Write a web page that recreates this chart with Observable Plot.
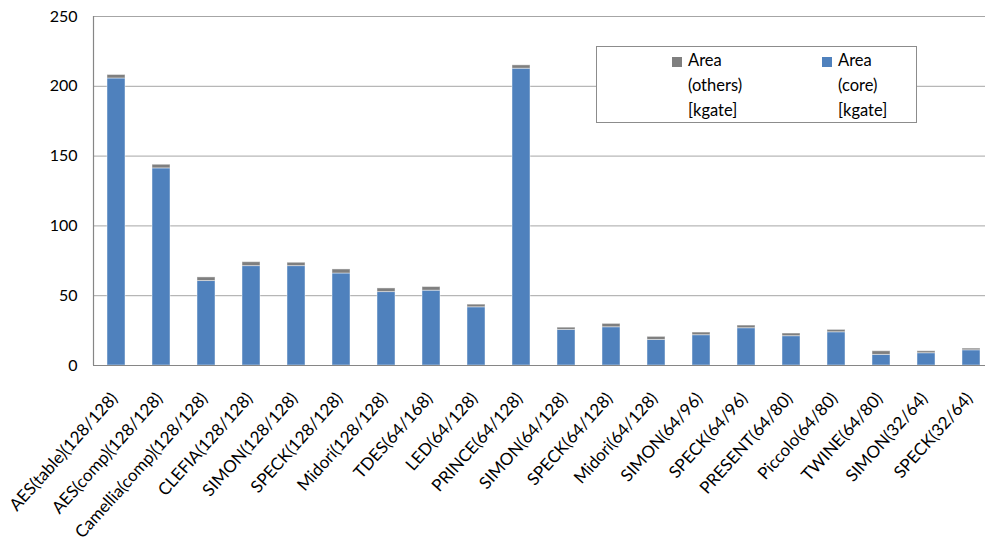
<!DOCTYPE html>
<html>
<head>
<meta charset="utf-8">
<script src="https://cdn.jsdelivr.net/npm/d3@7"></script>
<script src="https://cdn.jsdelivr.net/npm/@observablehq/plot@0.6"></script>
<style>
  html, body { margin: 0; padding: 0; background: #fff; }
  #wrap { position: relative; width: 985px; height: 547px; overflow: hidden; font-family: Lato, "Open Sans", sans-serif; }
  #legend {
    position: absolute; left: 596px; top: 46px; width: 321px; height: 77px;
    border: 1px solid #8c8c8c; background: #fff; box-sizing: border-box;
    font-size: 16.5px; color: #000; line-height: 25px;
  }
  .item { position: absolute; top: 1px; }
  .sw { position: absolute; left: 0; top: 9px; width: 10px; height: 10px; }
  .lbl { position: absolute; left: 16px; top: 0; white-space: nowrap; }
</style>
</head>
<body>
<div id="wrap">
  <div id="chart"></div>
  <div id="legend"></div>
</div>
<script>
// Cipher implementations (block/key size) and their area split in kgate
const ciphers = [
  "AES(table)(128/128)", "AES(comp)(128/128)", "Camellia(comp)(128/128)", "CLEFIA(128/128)",
  "SIMON(128/128)", "SPECK(128/128)", "Midori(128/128)", "TDES(64/168)", "LED(64/128)",
  "PRINCE(64/128)", "SIMON(64/128)", "SPECK(64/128)", "Midori(64/128)", "SIMON(64/96)",
  "SPECK(64/96)", "PRESENT(64/80)", "Piccolo(64/80)", "TWINE(64/80)", "SIMON(32/64)", "SPECK(32/64)"
];
const areaCore = [205.6, 141.2, 60.5, 71.2, 71.2, 65.9, 52.6, 53.6, 41.7, 212.6,
                  25.5, 27.4, 18.3, 21.7, 26.7, 21.0, 23.8, 7.6, 8.8, 10.9];
const areaOthers = [2.5, 2.6, 2.6, 2.8, 2.4, 2.9, 2.6, 2.6, 1.9, 2.4,
                    1.6, 2.4, 2.2, 1.9, 1.9, 1.9, 1.7, 2.6, 1.4, 1.2];
const yTicks = [0, 50, 100, 150, 200, 250];

const seriesNames = ["Area (core) [kgate]", "Area (others) [kgate]"];
const seriesColors = ["#4f81bd", "#7f7f7f"];

const rows = [];
ciphers.forEach((c, i) => {
  rows.push({cipher: c, series: seriesNames[0], value: areaCore[i]});
  rows.push({cipher: c, series: seriesNames[1], value: areaOthers[i]});
});

const W = 985, H = 547, mLeft = 93, mTop = 16, mBottom = 182;

const chart = Plot.plot({
  width: W,
  height: H,
  marginLeft: mLeft,
  marginRight: 0,
  marginTop: mTop,
  marginBottom: mBottom,
  style: {fontFamily: "Lato, 'Open Sans', sans-serif", fontSize: "16px", color: "#000", background: "#fff"},
  x: {domain: ciphers, range: [93.8, 993.8], paddingInner: 0.6, paddingOuter: 0.3, label: null},
  y: {domain: [0, 250], label: null},
  color: {domain: seriesNames, range: seriesColors},
  marks: [
    Plot.ruleY(yTicks.slice(1), {stroke: "#a6a6a6", strokeWidth: 1}),
    Plot.barY(rows, {x: "cipher", y: "value", fill: "series", stroke: "#ffffff", strokeOpacity: 0.45, strokeWidth: 1}),
    Plot.ruleY([0], {stroke: "#868686", strokeWidth: 1.2}),
    Plot.axisY({ticks: yTicks, tickSize: 0, tickPadding: 16, fill: "#000", fontSize: 16, label: null}),
    Plot.axisX({tickSize: 0, tickRotate: -48, tickPadding: 24, dx: -2, dy: 6, fill: "#000", fontSize: 17, label: null})
  ]
});
document.getElementById("chart").appendChild(chart);

// y-axis line along the left edge of the frame
d3.select(chart).append("line")
  .attr("x1", mLeft + 0.5).attr("x2", mLeft + 0.5)
  .attr("y1", mTop).attr("y2", H - mBottom)
  .attr("stroke", "#868686").attr("stroke-width", 1.2);

// legend: others first, then core
const legend = document.getElementById("legend");
const legendItems = [
  {lines: ["Area", "(others)", "[kgate]"], color: seriesColors[1], left: 75},
  {lines: ["Area", "(core)", "[kgate]"], color: seriesColors[0], left: 225}
];
legendItems.forEach(it => {
  const d = document.createElement("div");
  d.className = "item";
  d.style.left = it.left + "px";
  d.innerHTML = `<div class="sw" style="background:${it.color}"></div><div class="lbl">${it.lines.join("<br>")}</div>`;
  legend.appendChild(d);
});
</script>
</body>
</html>
